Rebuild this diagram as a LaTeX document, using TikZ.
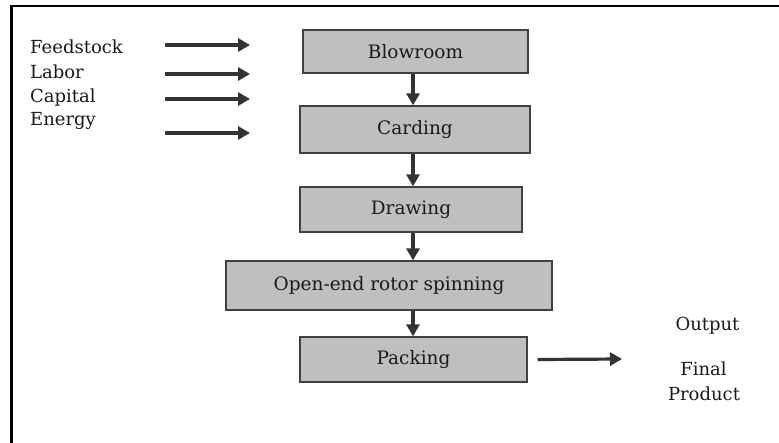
\documentclass[tikz,border=0pt]{standalone}
\usepackage{fontspec}
\setmainfont{DejaVu Serif}
\usetikzlibrary{arrows.meta}
\begin{document}
\begin{tikzpicture}[x=1pt,y=-1pt,
  lbl/.style={font=\fontsize{18}{21}\selectfont, text=black!90, inner sep=0pt},
  stage/.style={draw=black!75, line width=1.3pt, fill=black!25, font=\fontsize{18.5}{21}\selectfont, text=black!90, inner sep=0pt},
  arr/.style={draw=black!80, line width=3.2pt, -{Triangle[length=12pt,width=13pt]}},
  frame/.style={draw=black, line width=2.8pt}]
\useasboundingbox (0,0) rectangle (779,442);
\draw[frame] (11.5,460) -- (11.5,6) -- (800,6);
% stages
\node[stage, minimum width=225pt, minimum height=43pt] (blow) at (415.5,51.5) {Blowroom};
\node[stage, minimum width=230pt, minimum height=47pt] (card) at (415,129.5) {Carding};
\node[stage, minimum width=222pt, minimum height=45pt] (draw) at (411,209.5) {Drawing};
\node[stage, minimum width=326pt, minimum height=49pt] (open) at (389,285.5) {Open-end rotor spinning};
\node[stage, minimum width=227pt, minimum height=45pt] (pack) at (413.5,359.5) {Packing};
\coordinate (ax) at (413,0);
\draw[arr] (blow.south -| ax) -- (card.north -| ax);
\draw[arr] (card.south -| ax) -- (draw.north -| ax);
\draw[arr] (draw.south -| ax) -- (open.north -| ax);
\draw[arr] (open.south -| ax) -- (pack.north -| ax);
% inputs
\node[lbl, anchor=base west] (fs) at (30,53) {Feedstock};
\node[lbl, anchor=base west] (lab) at (30,78) {Labor};
\node[lbl, anchor=base west] (cap) at (30,102) {Capital};
\node[lbl, anchor=base west] (en) at (30,125) {Energy};
\coordinate (fs1) at (165,45); \coordinate (fs2) at (250,45);
\coordinate (lab1) at (165,74); \coordinate (lab2) at (250,74);
\coordinate (cap1) at (165,99); \coordinate (cap2) at (250,99);
\coordinate (en1) at (165,133); \coordinate (en2) at (250,133);
\draw[arr] (fs1) -- (fs2);
\draw[arr] (lab1) -- (lab2);
\draw[arr] (cap1) -- (cap2);
\draw[arr] (en1) -- (en2);
% output
\node[lbl, anchor=base] (outp) at (707.5,330) {Output};
\node[lbl, anchor=base] (fin) at (703.5,375) {Final};
\node[lbl, anchor=base] (prod) at (704,400) {Product};
\coordinate (o2) at (622,359);
\draw[arr] ([xshift=10pt]pack.east) -- (o2);
\end{tikzpicture}
\end{document}
